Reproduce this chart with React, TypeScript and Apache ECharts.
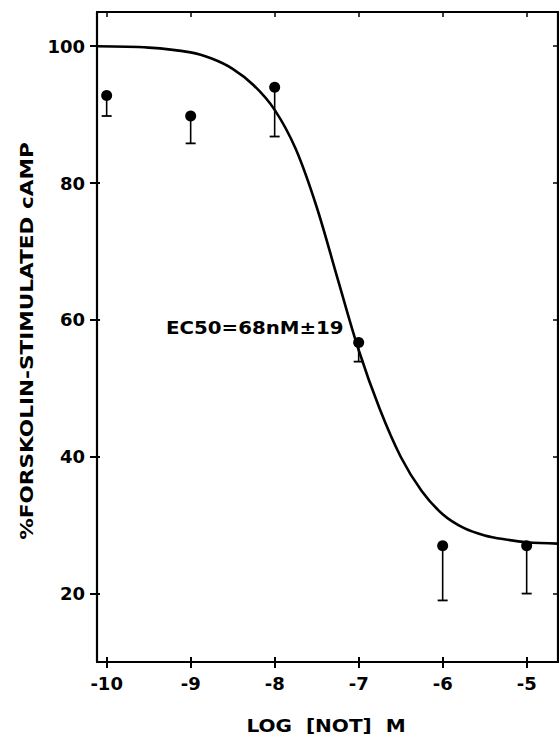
import React, { useEffect, useRef } from "react";
import * as echarts from "echarts";

// Measured data (log molar concentration vs % forskolin-stimulated cAMP)
const doseLog = [-10, -9, -8, -7, -6, -5];
const meanValues = [92.8, 89.8, 94.0, 56.7, 27.0, 27.0];
const lowerValues = [89.8, 85.8, 86.8, 53.9, 19.0, 20.0];

// Fitted curve
const curveX = [-10.115, -9.5, -9.0, -8.75, -8.5, -8.25, -8.0, -7.75, -7.5, -7.25, -7.0, -6.75, -6.5, -6.25, -6.0, -5.75, -5.5, -5.25, -5.0, -4.627];
const curveY = [100.0, 99.8, 99.1, 98.2, 96.7, 94.3, 90.7, 85.0, 76.5, 66.0, 55.6, 47.0, 40.0, 35.0, 31.6, 29.6, 28.5, 27.9, 27.5, 27.3];

const xTicks = [-10, -9, -8, -7, -6, -5];
const yTicks = [20, 40, 60, 80, 100];

const xTitle = "LOG  [NOT]  M";
const yTitle = "%FORSKOLIN-STIMULATED cAMP";
const annotation = "EC50=68nM\u00b119";

const FONT = "DejaVu Sans";

export default function App() {
  const ref = useRef<HTMLDivElement>(null);

  useEffect(() => {
    if (!ref.current) return;
    const chart = echarts.init(ref.current, null, { renderer: "svg" });

    const xMin = -10.115;
    const xMax = -4.627;
    const yMin = 10;
    const yMax = 105;

    const axisLineStyle = { color: "#000", width: 2.2 };
    const labelStyle = {
      color: "#000",
      fontFamily: FONT,
      fontWeight: "bold" as const,
      fontSize: 18,
    };

    const option: any = {
      animation: false,
      backgroundColor: "#fff",
      grid: { left: 97, right: 1, top: 12, bottom: 76, containLabel: false },
      xAxis: [
        {
          type: "value",
          position: "bottom",
          min: xMin,
          max: xMax,
          axisLine: { show: true, onZero: false, lineStyle: axisLineStyle },
          axisTick: { show: true, inside: false, length: 6, customValues: xTicks, lineStyle: { color: "#000", width: 2 } },
          axisLabel: { show: true, customValues: xTicks, margin: 12, ...labelStyle },
          splitLine: { show: false },
        },
        {
          type: "value",
          position: "bottom",
          min: xMin,
          max: xMax,
          axisLine: { show: false, onZero: false },
          axisTick: { show: true, inside: true, length: 5, customValues: xTicks, lineStyle: { color: "#000", width: 2 } },
          axisLabel: { show: false },
          splitLine: { show: false },
        },
        {
          type: "value",
          position: "top",
          min: xMin,
          max: xMax,
          axisLine: { show: true, onZero: false, lineStyle: axisLineStyle },
          axisTick: { show: true, inside: true, length: 5, customValues: xTicks, lineStyle: { color: "#000", width: 1.5 } },
          axisLabel: { show: false },
          splitLine: { show: false },
        },
      ],
      yAxis: [
        {
          type: "value",
          position: "left",
          min: yMin,
          max: yMax,
          axisLine: { show: true, onZero: false, lineStyle: axisLineStyle },
          axisTick: { show: true, inside: false, length: 7, customValues: yTicks, lineStyle: { color: "#000", width: 2 } },
          axisLabel: { show: true, customValues: yTicks, margin: 12, ...labelStyle },
          splitLine: { show: false },
        },
        {
          type: "value",
          position: "left",
          min: yMin,
          max: yMax,
          axisLine: { show: false, onZero: false },
          axisTick: { show: true, inside: true, length: 3, customValues: yTicks, lineStyle: { color: "#000", width: 2 } },
          axisLabel: { show: false },
          splitLine: { show: false },
        },
        {
          type: "value",
          position: "right",
          min: yMin,
          max: yMax,
          axisLine: { show: true, onZero: false, lineStyle: axisLineStyle },
          axisTick: { show: true, inside: true, length: 5, customValues: yTicks, lineStyle: { color: "#000", width: 1.5 } },
          axisLabel: { show: false },
          splitLine: { show: false },
        },
      ],
      series: [
        {
          type: "line",
          name: "fit",
          xAxisIndex: 0,
          yAxisIndex: 0,
          data: curveX.map((x, i) => [x, curveY[i]]),
          smooth: 0.35,
          showSymbol: false,
          symbol: "none",
          lineStyle: { color: "#000", width: 2.6 },
          z: 3,
        },
        {
          type: "custom",
          name: "error",
          xAxisIndex: 0,
          yAxisIndex: 0,
          data: doseLog.map((x, i) => [x, meanValues[i], lowerValues[i]]),
          renderItem: (params: any, api: any) => {
            const x = api.value(0);
            const top = api.coord([x, api.value(1)]);
            const bot = api.coord([x, api.value(2)]);
            return {
              type: "group",
              children: [
                {
                  type: "line",
                  shape: { x1: top[0], y1: top[1], x2: bot[0], y2: bot[1] },
                  style: { stroke: "#000", lineWidth: 1.6 },
                },
                {
                  type: "line",
                  shape: { x1: bot[0] - 5, y1: bot[1], x2: bot[0] + 5, y2: bot[1] },
                  style: { stroke: "#000", lineWidth: 1.8 },
                },
              ],
            };
          },
          z: 4,
        },
        {
          type: "scatter",
          name: "mean",
          xAxisIndex: 0,
          yAxisIndex: 0,
          data: doseLog.map((x, i) => [x, meanValues[i]]),
          symbol: "circle",
          symbolSize: 11,
          itemStyle: { color: "#000", opacity: 1 },
          z: 5,
        },
      ],
      graphic: [
        {
          type: "text",
          x: 27,
          y: 341,
          rotation: Math.PI / 2,
          scaleX: 1.2,
          style: {
            text: yTitle,
            fill: "#000",
            font: `bold 18px "${FONT}"`,
            textAlign: "center",
            textVerticalAlign: "middle",
          },
        },
        {
          type: "text",
          x: 326,
          y: 726,
          scaleX: 1.18,
          style: {
            text: xTitle,
            fill: "#000",
            font: `bold 17px "${FONT}"`,
            textAlign: "center",
            textVerticalAlign: "middle",
          },
        },
        {
          type: "text",
          x: 166,
          y: 327,
          scaleX: 1.1,
          style: {
            text: annotation,
            fill: "#000",
            font: `bold 18px "${FONT}"`,
            textAlign: "left",
            textVerticalAlign: "middle",
          },
        },
      ],
    };

    chart.setOption(option);
    return () => {
      chart.dispose();
    };
  }, []);

  return (
    <div
      ref={ref}
      style={{ position: "fixed", left: 0, top: 0, width: 559, height: 738, background: "#fff" }}
    />
  );
}
